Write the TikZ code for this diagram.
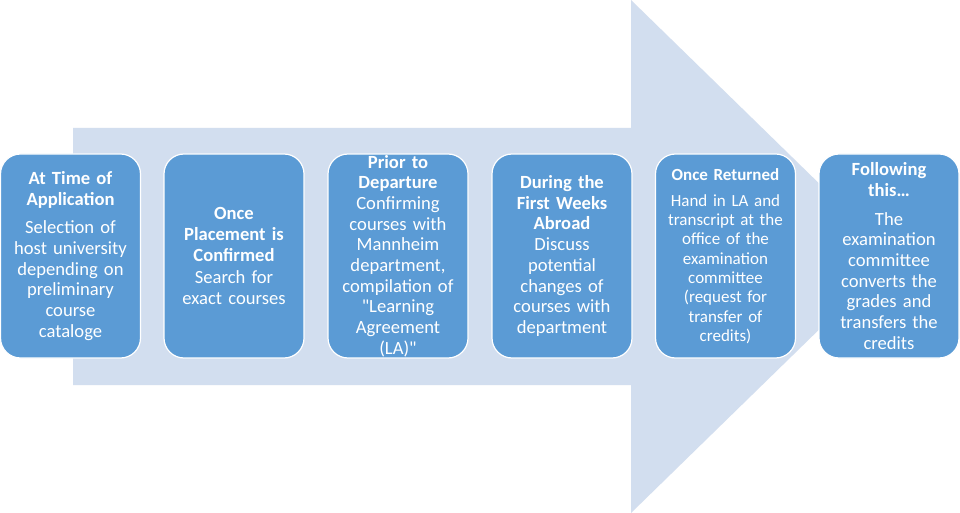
\documentclass[tikz,border=0pt]{standalone}
\usepackage{fontspec}
\setmainfont{Carlito}
\newfontfamily\plaincarlito{Carlito}
\definecolor{arrowfill}{HTML}{D2DEEF}
\definecolor{boxfill}{HTML}{5B9BD5}
\newcommand{\dq}{{\plaincarlito\char34}}
\begin{document}
\begin{tikzpicture}[x=1bp,y=-1bp,
  stagebox/.style={draw=white, line width=1.2bp, fill=boxfill, rounded corners=20bp,
    minimum width=140bp, minimum height=204bp, inner xsep=1bp, inner ysep=0pt,
    text width=138bp, align=center, text=white,
    font=\fontsize{18.6bp}{20.7bp}\selectfont},
  bigarrow/.style={fill=arrowfill, draw=none}]
\useasboundingbox[fill=white] (0,0) rectangle (960,513);
\fill[bigarrow] (73,128) -- (631,128) -- (631,0) -- (894,256.5) -- (631,513) -- (631,385) -- (73,385) -- cycle;
\node[stagebox] (b1) at (70.5,256) {\textbf{At Time of}\\\textbf{Application}\\[8bp]Selection of\\host university\\depending on\\preliminary\\course\\cataloge};
\node[stagebox] (b2) at (234,256) {\textbf{Once}\\\textbf{Placement is}\\\textbf{Confirmed}\\[1.5bp]Search for\\exact courses};
\node[stagebox] (b3) at (398,256) {\textbf{Prior to}\\\textbf{Departure}\\Confirming\\courses with\\Mannheim\\department,\\compilation of\\\dq Learning\\Agreement\\(LA)\dq};
\node[stagebox] (b4) at (562,256) {\textbf{During the}\\\textbf{First Weeks}\\\textbf{Abroad}\\Discuss\\potential\\changes of\\courses with\\department};
\node[stagebox, font=\fontsize{17bp}{19.3bp}\selectfont] (b5) at (725.5,256) {\textbf{Once Returned}\\[7bp]Hand in LA and\\transcript at the\\office of the\\examination\\committee\\(request for\\transfer of\\credits)};
\node[stagebox] (b6) at (889,256) {\textbf{Following}\\\textbf{this…}\\[8bp]The\\examination\\committee\\converts the\\grades and\\transfers the\\credits};
\end{tikzpicture}
\end{document}
